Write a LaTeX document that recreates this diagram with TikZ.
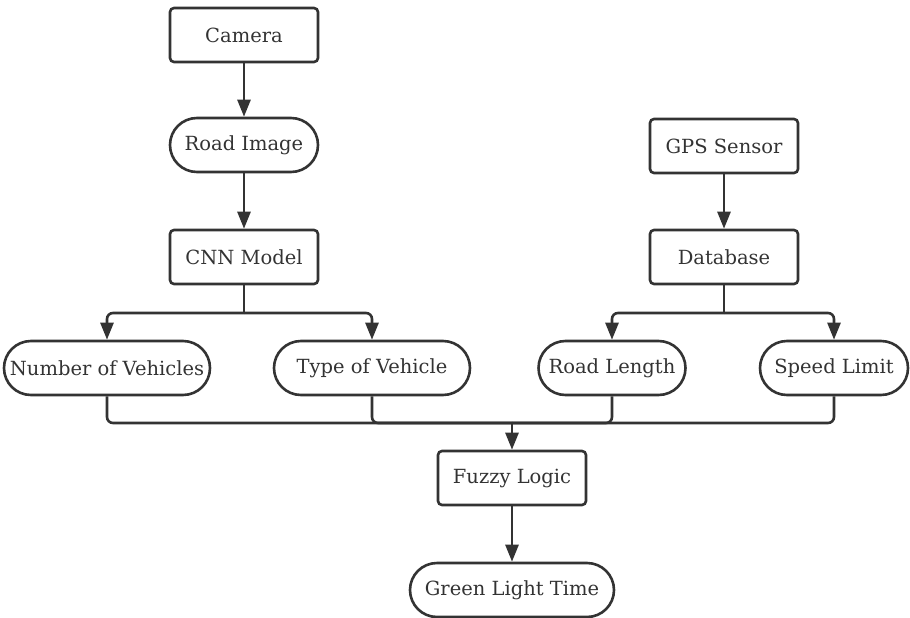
\documentclass[tikz,border=0pt]{standalone}
\usepackage{fontspec}
\setmainfont{DejaVu Serif}
\usetikzlibrary{arrows.meta}
\definecolor{ink}{HTML}{333333}
\tikzset{
  base/.style={draw=ink, line width=2.6pt, text=ink, font=\fontsize{19.5}{23}\selectfont, inner sep=0pt, minimum height=54pt},
  boxnode/.style={base, rounded corners=4pt, minimum width=148pt},
  pill/.style={base, rounded corners=27pt},
  link/.style={draw=ink, line width=2.6pt, rounded corners=6pt},
  arr/.style={link, -{Triangle[length=17pt,width=13pt]}}
}
\begin{document}
\begin{tikzpicture}[x=1pt,y=-1pt]
\useasboundingbox (0,0) rectangle (910,618);
\node[boxnode] (cam) at (244,35) {Camera};
\node[pill, minimum width=148pt] (road) at (244,145) {Road Image};
\node[boxnode] (cnn) at (244,257) {CNN Model};
\node[boxnode] (gps) at (724,146) {GPS Sensor};
\node[boxnode] (db) at (724,257) {Database};
\node[pill, minimum width=206pt] (nov) at (107,368) {Number of Vehicles};
\node[pill, minimum width=196pt] (tov) at (372,368) {Type of Vehicle};
\node[pill, minimum width=147pt] (rl) at (612,368) {Road Length};
\node[pill, minimum width=148pt] (sl) at (834,368) {Speed Limit};
\node[boxnode] (fz) at (512,478) {Fuzzy Logic};
\node[pill, minimum width=204pt] (glt) at (512,590) {Green Light Time};
\coordinate (j1) at (244,313);
\coordinate (j2) at (724,313);
\coordinate (j3) at (512,423);
\draw[arr] (cam) -- (road);
\draw[arr] (road) -- (cnn);
\draw[arr] (gps) -- (db);
\draw[link] (cnn) -- (j1);
\draw[arr] (j1) -| (nov);
\draw[arr] (j1) -| (tov);
\draw[link] (db) -- (j2);
\draw[arr] (j2) -| (rl);
\draw[arr] (j2) -| (sl);
\draw[link] (nov) |- (j3);
\draw[link] (tov) |- (j3);
\draw[link] (rl) |- (j3);
\draw[link] (sl) |- (j3);
\draw[arr] (j3) -- (fz);
\draw[arr] (fz) -- (glt);
\end{tikzpicture}
\end{document}
